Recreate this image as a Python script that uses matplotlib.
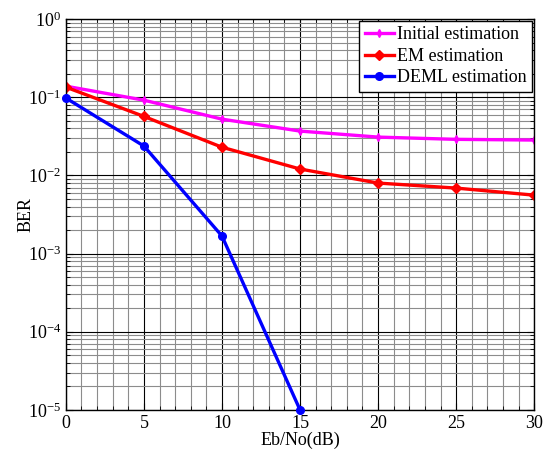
import matplotlib
matplotlib.use("Agg")
import matplotlib.pyplot as plt
from matplotlib.ticker import LogLocator, MultipleLocator, NullFormatter

snr = [0, 5, 10, 15, 20, 25, 30]
ber_initial = [0.139, 0.092, 0.0526, 0.037, 0.031, 0.029, 0.0284]
ber_em = [0.135, 0.057, 0.023, 0.0121, 0.0080, 0.0069, 0.0056]
snr_deml = [0, 5, 10, 15]
ber_deml = [0.098, 0.0238, 0.00168, 1e-5]

plt.rcParams['font.family'] = ['Liberation Serif', 'DejaVu Serif']
plt.rcParams['mathtext.fontset'] = 'stix'

fig = plt.figure(figsize=(5.49, 4.57), dpi=100)
ax = fig.add_axes([0.120, 0.103, 0.853, 0.855])

ax.plot(snr, ber_initial, color='#ff00ff', lw=2.4, marker='d', ms=4, label='Initial estimation')
ax.plot(snr, ber_em, color='#ff0000', lw=2.4, marker='D', ms=5, label='EM estimation')
ax.plot(snr_deml, ber_deml, color='#0000ff', lw=2.4, marker='o', ms=5.5, label='DEML estimation', clip_on=False, zorder=5)

ax.set_yscale('log')
ax.set_xlim(0, 30)
ax.set_ylim(1e-5, 1)
ax.xaxis.set_major_locator(MultipleLocator(5))
ax.xaxis.set_minor_locator(MultipleLocator(1))
ax.yaxis.set_major_locator(LogLocator(base=10, numticks=10))
ax.yaxis.set_minor_locator(LogLocator(base=10, subs=range(2, 10), numticks=20))
ax.yaxis.set_minor_formatter(NullFormatter())

ax.grid(which='major', color='black', lw=0.8)
ax.grid(which='minor', color='#8c8c8c', lw=0.8)
ax.set_axisbelow(True)
ax.tick_params(which='both', direction='in', top=True, right=True, labelsize=13)
ax.tick_params(which='major', length=5)
ax.tick_params(which='minor', length=3)
for s in ax.spines.values():
    s.set_linewidth(1.0)

ax.set_xlabel('Eb/No(dB)', fontsize=13, labelpad=0)
ax.set_ylabel('BER', fontsize=13)
ax.yaxis.set_label_coords(-0.068, 0.5)

leg = ax.legend(loc='upper right', fontsize=13, fancybox=False, framealpha=1,
                edgecolor='black', borderaxespad=0.1, handlelength=1.6,
                handletextpad=0.2, labelspacing=0.25, borderpad=0.3)
leg.get_frame().set_linewidth(1.0)

fig.savefig('out.png', dpi=100)
